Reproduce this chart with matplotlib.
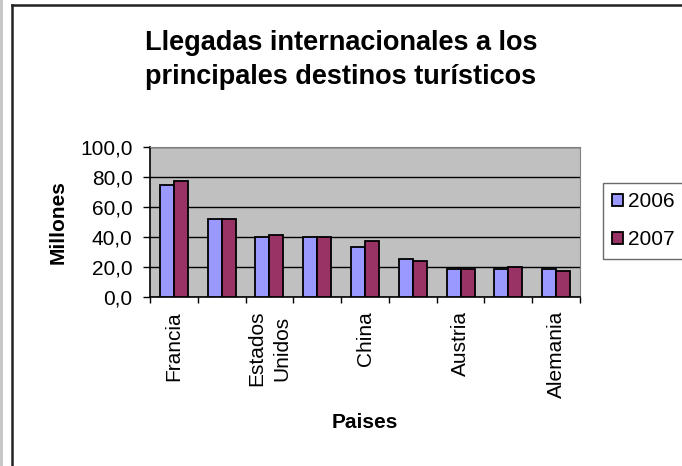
import matplotlib.pyplot as plt
from matplotlib.patches import Rectangle
import numpy as np

# data (millions of arrivals)
paises = ['Francia', 'España', 'Estados\nUnidos', 'Italia', 'China',
          'Reino Unido', 'Austria', 'México', 'Alemania']
shown = [True, False, True, False, True, False, True, False, True]
v2006 = [74.4, 51.8, 39.8, 39.8, 33.1, 25.1, 18.4, 18.4, 18.4]
v2007 = [77.1, 51.8, 41.1, 39.8, 37.3, 23.8, 18.4, 20.0, 17.1]
yticks = [0, 20, 40, 60, 80, 100]
ytick_labels = ['0,0', '20,0', '40,0', '60,0', '80,0', '100,0']

plt.rcParams['font.family'] = ['Liberation Sans', 'DejaVu Sans']

fig = plt.figure(figsize=(6.82, 4.66), dpi=100)
ax = fig.add_axes([150/682, 1 - 297/466, 430/682, 150/466])

# chart area frame and grey strip on the left
fig.patches.append(Rectangle((0, 0), 3/682, 1, transform=fig.transFigure,
                             facecolor='#c8c8c8', edgecolor='none'))
fig.add_artist(plt.Line2D([11.5/682, 11.5/682], [0, 1 - 4.5/466],
                          transform=fig.transFigure, color='#222222', lw=1.8))
fig.add_artist(plt.Line2D([11.5/682, 1], [1 - 4.5/466, 1 - 4.5/466],
                          transform=fig.transFigure, color='#222222', lw=1.8))

x = np.arange(len(paises))
w = 0.293
ax.set_facecolor('#c0c0c0')
ax.bar(x - w/2, v2006, w, color='#9999ff', edgecolor='black', lw=1.3,
       label='2006', zorder=3)
ax.bar(x + w/2, v2007, w, color='#993366', edgecolor='black', lw=1.3,
       label='2007', zorder=3)

ax.set_xlim(-0.5, len(paises) - 0.5)
ax.set_ylim(0, 100)
ax.set_yticks(yticks)
ax.set_yticklabels(ytick_labels, fontsize=15)
ax.yaxis.grid(True, color='black', lw=1)
ax.set_axisbelow(True)

ax.set_xticks(np.arange(len(paises) + 1) - 0.5)
ax.set_xticklabels([])
ax.set_xticks(x, minor=True)
ax.set_xticklabels([p if s else '' for p, s in zip(paises, shown)],
                   minor=True, rotation=90, fontsize=15, ha='center',
                   va='top', multialignment='center', linespacing=1.45)
ax.tick_params(axis='x', which='minor', length=0, pad=10)
ax.tick_params(axis='x', which='major', length=4.3, width=1, direction='out')
ax.tick_params(axis='y', length=5, width=1, direction='out', pad=7.5)

for s in ['top', 'right']:
    ax.spines[s].set_color('#808080')
for s in ['left', 'bottom']:
    ax.spines[s].set_color('black')
    ax.spines[s].set_linewidth(1.2)

fig.text(0.5, 1 - 43/466, 'Llegadas internacionales a los', ha='center',
         va='center', fontsize=19.5, fontweight='bold')
fig.text(0.5, 1 - 77/466, 'principales destinos turísticos', ha='center',
         va='center', fontsize=19.5, fontweight='bold')
fig.text(58/682, 1 - 222/466, 'Millones', rotation=90, ha='center',
         va='center', fontsize=15, fontweight='bold')
fig.text(365/682, 1 - 423/466, 'Paises', ha='center', va='center',
         fontsize=15, fontweight='bold')

leg = fig.legend(loc='upper left', bbox_to_anchor=(603/682, 1 - 183/466),
                 fontsize=15, frameon=True, fancybox=False, shadow=False,
                 handlelength=0.5, handleheight=0.5, handletextpad=0.25,
                 labelspacing=0.9, borderpad=0.45, borderaxespad=0)
leg.get_frame().set_edgecolor('#444444')
leg.get_frame().set_linewidth(1)

fig.savefig('out.png', dpi=100)
